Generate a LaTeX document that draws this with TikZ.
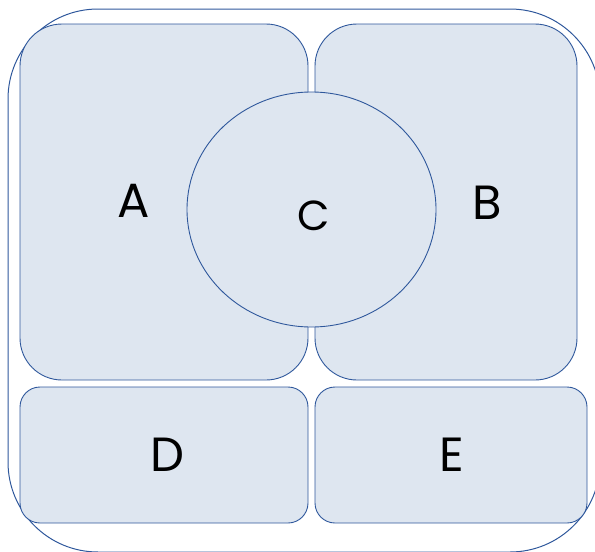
\documentclass[tikz,border=0pt]{standalone}
\usepackage{fontspec}
\setmainfont{Poppins}
\definecolor{panelfill}{RGB}{222,230,240}
\definecolor{panelline}{RGB}{47,88,156}
\begin{document}
\begin{tikzpicture}[x=1pt,y=-1pt,
  panel/.style={draw=panelline, fill=panelfill, line width=0.9pt, inner sep=0pt, outer sep=0pt},
  lbl/.style={inner sep=0pt, font=\fontsize{48}{48}\selectfont, text=black}]
\useasboundingbox (0,0) rectangle (595,552);
\node[draw=panelline, line width=1pt, rounded corners=90pt, minimum width=592pt, minimum height=543pt, inner sep=0pt] (outer) at (304,280.5) {};
\node[panel, rounded corners=42pt, minimum width=288pt, minimum height=356pt] (A) at (164,202) {};
\node[panel, rounded corners=42pt, minimum width=262pt, minimum height=356pt] (B) at (446,202) {};
\node[panel, rounded corners=20pt, minimum width=288pt, minimum height=136pt] (D) at (164,455) {};
\node[panel, rounded corners=20pt, minimum width=272pt, minimum height=136pt] (E) at (451,455) {};
\draw[panelline, fill=panelfill, line width=0.9pt] (311.5,209.5) ellipse [x radius=124.5, y radius=117.5];
\coordinate (C) at (311.5,209.5);
\node[lbl] (lA) at (134,201) {A};
\node[lbl] (lB) at (487,202.5) {B};
\node[lbl, font=\fontsize{42}{42}\selectfont] (lC) at (314,216) {C};
\node[lbl] (lD) at (167,455) {D};
\node[lbl] (lE) at (452,454.5) {E};
\end{tikzpicture}
\end{document}
